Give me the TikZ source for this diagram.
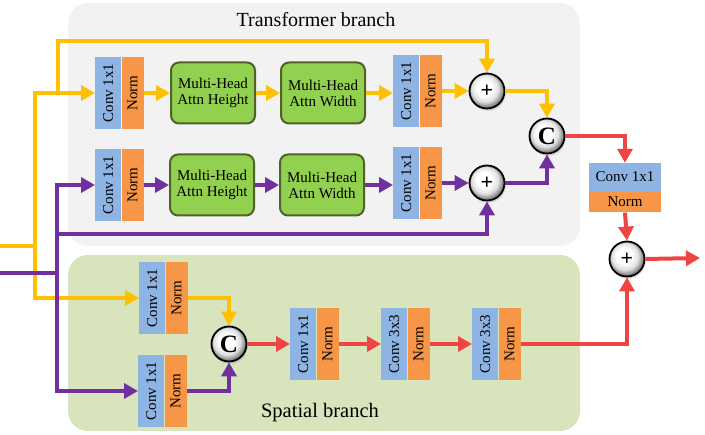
\documentclass[tikz,border=0pt]{standalone}
\usepackage{fontspec}
\setmainfont{Liberation Serif}
\usepackage{graphicx}
\usetikzlibrary{arrows.meta,shadows}
\definecolor{cyel}{HTML}{FFC000}
\definecolor{cpur}{HTML}{7030A0}
\definecolor{cred}{HTML}{EE4444}
\definecolor{cblue}{HTML}{8EB4E3}
\definecolor{corg}{HTML}{F79646}
\definecolor{cgrn}{HTML}{92D050}
\definecolor{cdg}{HTML}{4F6228}
\definecolor{cgray}{HTML}{F2F2F2}
\definecolor{csp}{HTML}{D8E4BC}
\pgfdeclareradialshading{myball}{\pgfqpoint{-5bp}{6bp}}{color(0bp)=(white); color(11bp)=(white); color(19bp)=(black!12); color(24bp)=(black!40); color(28bp)=(black!60); color(50bp)=(black!60)}
\tikzset{
  txt/.style={font=\fontsize{15}{16}\selectfont},
  bluebox/.style={txt, fill=cblue, minimum width=26pt, minimum height=72pt, inner sep=0pt, anchor=west},
  orgbox/.style={txt, fill=corg, minimum width=22pt, minimum height=72pt, inner sep=0pt, anchor=west},
  mha/.style={txt, fill=cgrn, draw=cdg, line width=2pt, rounded corners=8pt, minimum width=84pt, minimum height=61pt, align=center, inner sep=0pt},
  opc/.style={circle, draw=black, line width=1.8pt, minimum size=35pt, inner sep=0pt, shading=myball,
     drop shadow={shadow xshift=1pt, shadow yshift=-2.5pt, opacity=0.25}},
  plusc/.style={opc, font=\fontsize{22}{22}\selectfont\bfseries},
  catc/.style={opc, font=\fontsize{25}{25}\selectfont\bfseries},
  conn/.style={line width=4pt, -{Triangle[length=14pt,width=15pt]}},
  yl/.style={conn, draw=cyel},
  pl/.style={conn, draw=cpur},
  rl/.style={conn, draw=cred},
  plain/.style={line width=4pt},
}
\newcommand{\vblock}[4]{%
  \node[bluebox] (#1c) at (#2,#3) {\rotatebox{90}{#4}};
  \node[orgbox] (#1n) at (#1c.east) {\rotatebox{90}{Norm}};
}
\begin{document}
\begin{tikzpicture}[x=1pt,y=-1pt]
\useasboundingbox (0,0) rectangle (705,435);
% backgrounds
\fill[cgray, rounded corners=20pt] (68,3) rectangle (580,246);
\fill[csp, rounded corners=20pt] (68,255) rectangle (580,431);
\node[font=\fontsize{20}{20}\selectfont] (tt) at (316,20) {Transformer branch};
\node[font=\fontsize{20.5}{20}\selectfont] (st) at (320,413) {Spatial branch};
% transformer row 1
\vblock{a1}{95}{93}{Conv 1x1}
\node[mha] (h1) at (213,93) {Multi-Head\\Attn Height};
\node[mha] (w1) at (323,93) {Multi-Head\\Attn Width};
\vblock{b1}{393}{91}{Conv 1x1}
\node[plusc] (p1) at (487,91) {+};
% transformer row 2
\vblock{a2}{95}{185}{Conv 1x1}
\node[mha] (h2) at (212,185) {Multi-Head\\Attn Height};
\node[mha] (w2) at (322,185) {Multi-Head\\Attn Width};
\vblock{b2}{393}{183}{Conv 1x1}
\node[plusc] (p2) at (487,183) {+};
\node[catc] (cc1) at (547,136) {C};
% right block
\node[txt, fill=cblue, minimum width=72pt, minimum height=28pt, inner sep=0pt] (rc) at (625,177) {Conv 1x1};
\node[txt, fill=corg, minimum width=72pt, minimum height=21pt, inner sep=0pt, anchor=north] (rn) at (rc.south) {Norm};
\node[plusc] (fp) at (627,259) {+};
\coordinate (out) at (700,258);
% spatial branch
\vblock{s1}{139}{298}{Conv 1x1}
\vblock{s2}{138}{391}{Conv 1x1}
\node[catc] (cc2) at (229,344) {C};
\vblock{m1}{290}{344}{Conv 1x1}
\vblock{m2}{381}{344}{Conv 3x3}
\vblock{m3}{472}{344}{Conv 3x3}
% inputs
\coordinate (yin) at (0,246);
\coordinate (pin) at (0,273);
\coordinate (yj) at (35,246);
\coordinate (pj) at (57,273);
% yellow
\draw[plain, cyel] (yin) -- (yj);
\draw[yl] (yj) |- (a1c.west);
\draw[yl] (yj) |- (s1c.west);
\draw[yl] (58,93) -- (58,41) -| (p1.north);
\draw[yl] (a1n.east) -- (h1.west);
\draw[yl] (h1.east) -- (w1.west);
\draw[yl] (w1.east) -- (b1c.west |- w1.east);
\draw[yl] (b1n.east) -- (p1.west);
\draw[yl] (p1.east) -| (cc1.north);
\draw[yl] (s1n.east) -| (cc2.north);
% purple
\draw[plain, cpur] (pin) -- (pj);
\draw[pl] (pj) |- (a2c.west);
\draw[pl] (pj) |- (s2c.west);
\draw[pl] (57,234) -| (p2.south);
\draw[pl] (a2n.east) -- (h2.west);
\draw[pl] (h2.east) -- (w2.west);
\draw[pl] (w2.east) -- (b2c.west |- w2.east);
\draw[pl] (b2n.east) -- (p2.west);
\draw[pl] (p2.east) -| (cc1.south);
\draw[pl] (s2n.east) -| (cc2.south);
% red
\draw[rl] (cc1.east) -| (rc.north);
\draw[rl] (rn.south) -- (fp.north);
\draw[rl] (fp.east) -- (out);
\draw[rl] (cc2.east) -- (m1c.west);
\draw[rl] (m1n.east) -- (m2c.west);
\draw[rl] (m2n.east) -- (m3c.west);
\draw[rl] (m3n.east) -| (fp.south);
\end{tikzpicture}
\end{document}
